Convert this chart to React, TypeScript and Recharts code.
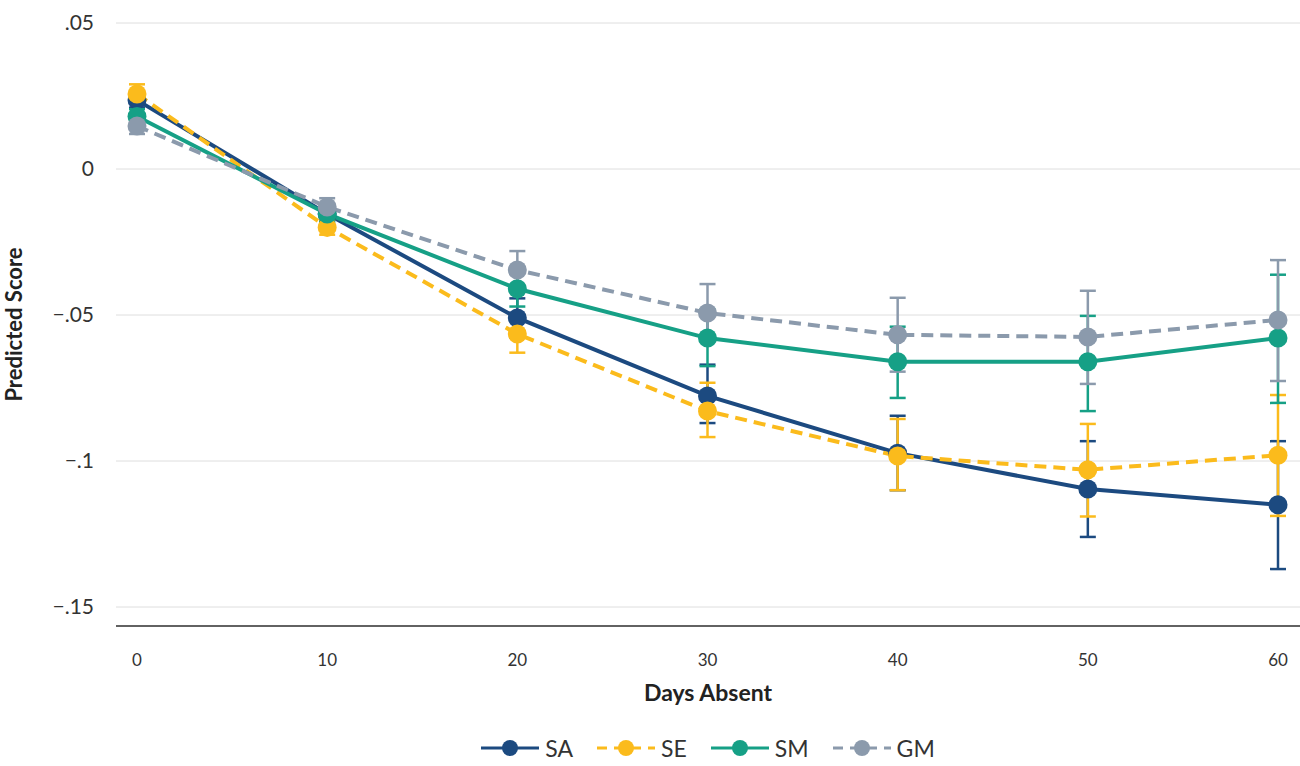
import { CartesianGrid, ErrorBar, Legend, Line, LineChart, XAxis, YAxis } from 'recharts'

const days = [0, 10, 20, 30, 40, 50, 60]
const yTicks = [-0.15, -0.1, -0.05, 0, 0.05]

// predicted scores per subject, with lower / upper CI bounds
const saValues = [0.0236, -0.0154, -0.051, -0.0777, -0.0973, -0.1096, -0.115]
const saLow = [0.021, -0.018, -0.0577, -0.087, -0.11, -0.126, -0.137]
const saHigh = [0.026, -0.013, -0.0443, -0.067, -0.0845, -0.0932, -0.0932]

const seValues = [0.0257, -0.02, -0.0565, -0.0829, -0.0983, -0.103, -0.098]
const seLow = [0.0225, -0.0225, -0.0629, -0.0918, -0.11, -0.119, -0.1188]
const seHigh = [0.029, -0.0175, -0.05, -0.0732, -0.0856, -0.0873, -0.0774]

const smValues = [0.018, -0.0154, -0.041, -0.0579, -0.066, -0.066, -0.0579]
const smLow = [0.0155, -0.018, -0.0471, -0.0675, -0.0784, -0.0829, -0.0801]
const smHigh = [0.0205, -0.013, -0.035, -0.048, -0.054, -0.0503, -0.0362]

const gmValues = [0.0147, -0.013, -0.0346, -0.0493, -0.0568, -0.0575, -0.0517]
const gmLow = [0.012, -0.016, -0.041, -0.059, -0.0694, -0.0736, -0.0726]
const gmHigh = [0.0175, -0.01, -0.0281, -0.0394, -0.0441, -0.0417, -0.0312]

const series = [
  { key: 'SA', color: '#1c4a80', dash: undefined, values: saValues, low: saLow, high: saHigh },
  { key: 'SE', color: '#fbbb1c', dash: '12 7', values: seValues, low: seLow, high: seHigh },
  { key: 'SM', color: '#16a086', dash: undefined, values: smValues, low: smLow, high: smHigh },
  { key: 'GM', color: '#8b9aac', dash: '12 7', values: gmValues, low: gmLow, high: gmHigh },
]

const data = days.map((day, i) => {
  const row: Record<string, number | number[]> = { day }
  series.forEach((s) => {
    row[s.key] = s.values[i]
    row[`${s.key}err`] = [s.values[i] - s.low[i], s.high[i] - s.values[i]]
  })
  return row
})

const FONT = 'Lato, sans-serif'
const TEXT = '#333333'

function formatTick(v: number): string {
  if (v === 0) return '0'
  const s = Math.abs(v).toString().replace(/^0/, '')
  return v < 0 ? `\u2212${s}` : s
}

function LegendContent() {
  return (
    <div
      style={{
        display: 'flex',
        justifyContent: 'center',
        alignItems: 'center',
        boxSizing: 'border-box',
        height: 40,
        paddingTop: 4,
        paddingLeft: 116,
        gap: 24,
        fontFamily: FONT,
        fontSize: 23,
        color: TEXT,
      }}
    >
      {series.map((s) => (
        <div key={s.key} style={{ display: 'flex', alignItems: 'center', gap: 6 }}>
          <svg width={58} height={20}>
            <line
              x1={0}
              y1={10}
              x2={58}
              y2={10}
              stroke={s.color}
              strokeWidth={3}
              strokeDasharray={s.dash ? '10 7' : undefined}
            />
            <circle cx={29} cy={10} r={8} fill={s.color} />
          </svg>
          <span>{s.key}</span>
        </div>
      ))}
    </div>
  )
}

export default function App() {
  return (
    <div style={{ position: 'absolute', left: 0, top: 0, width: 1300, height: 766, background: '#fff' }}>
      <LineChart width={1300} height={766} data={data} margin={{ top: 23, right: 0, bottom: 0, left: 0 }}>
        <CartesianGrid vertical={false} stroke="#dedede" />
        <XAxis
          dataKey="day"
          type="number"
          domain={[0, 60]}
          ticks={days}
          padding={{ left: 21, right: 22 }}
          height={100}
          tickLine={false}
          axisLine={{ stroke: '#333', strokeWidth: 1.5 }}
          tickMargin={22}
          tick={{ fontSize: 17, fill: TEXT, fontFamily: FONT }}
          label={{
            value: 'Days Absent',
            position: 'insideBottom',
            offset: 25,
            style: { fontSize: 23, fontWeight: 700, fill: '#222', fontFamily: FONT },
          }}
        />
        <YAxis
          type="number"
          domain={[-0.1565, 0.05]}
          ticks={yTicks}
          width={116}
          axisLine={false}
          tickLine={false}
          tickMargin={16}
          tickFormatter={formatTick}
          tick={{ fontSize: 21, fill: TEXT, fontFamily: FONT }}
          label={{
            value: 'Predicted Score',
            angle: -90,
            position: 'insideLeft',
            offset: 14,
            style: { textAnchor: 'middle', fontSize: 22, fontWeight: 700, fill: '#222', fontFamily: FONT },
          }}
        />
        <Legend verticalAlign="bottom" align="center" content={() => <LegendContent />} />
        {series.map((s) => (
          <Line
            key={s.key}
            dataKey={s.key}
            stroke={s.color}
            strokeWidth={4}
            strokeDasharray={s.dash}
            dot={{ r: 9.5, fill: s.color, stroke: 'none', strokeWidth: 0 }}
            activeDot={false}
            isAnimationActive={false}
          >
            <ErrorBar
              dataKey={`${s.key}err`}
              direction="y"
              width={8}
              stroke={s.color}
              strokeWidth={2.5}
              isAnimationActive={false}
            />
          </Line>
        ))}
      </LineChart>
    </div>
  )
}
